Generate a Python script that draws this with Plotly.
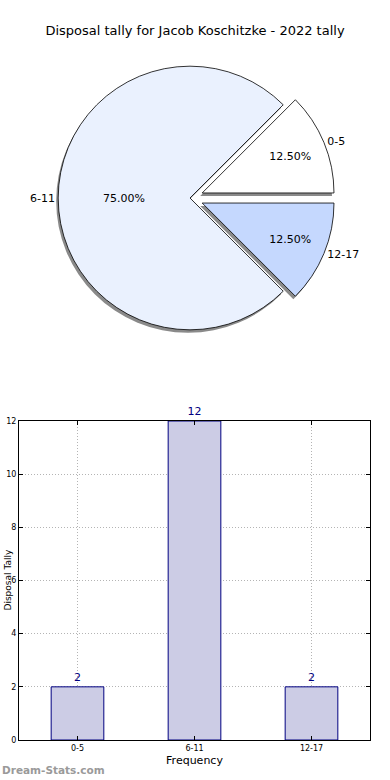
import plotly.graph_objects as go

categories = ["0-5", "6-11", "12-17"]
counts = [2, 12, 2]
pulls = [0.1, 0.0, 0.1]
pie_colors = ["#ffffff", "#eaf1fe", "#c5d8fe"]
y_ticks = [0, 2, 4, 6, 8, 10, 12]

W, H = 390, 780
FONT = "DejaVu Sans"

def px_x(a, b):
    return [a / W, b / W]

def px_y(top, bottom):
    return [1 - bottom / H, 1 - top / H]

fig = go.Figure()

# first wedge starts at 3 o'clock and runs counterclockwise (plotly ends the
# first ccw slice at `rotation`, so shift by that slice's angle)
rot = 90 - 360 * counts[0] / sum(counts)

cx, cy, half = 190, 198, 145
dom_x = px_x(cx - half - 40, cx + half + 40)
dom_y = px_y(cy - half, cy + half)
sh_x = px_x(cx - half - 40 - 2, cx + half + 40 - 2)
sh_y = px_y(cy - half + 3, cy + half + 3)

common = dict(labels=categories, values=counts, sort=False,
              direction="counterclockwise", rotation=rot, pull=pulls,
              hoverinfo="skip", showlegend=False)

fig.add_trace(go.Pie(**common, domain=dict(x=sh_x, y=sh_y),
                     marker=dict(colors=["#8a8a8a"] * 3, line=dict(width=0)),
                     textinfo="none"))
fig.add_trace(go.Pie(**common, domain=dict(x=dom_x, y=dom_y),
                     marker=dict(colors=pie_colors, line=dict(color="#000000", width=0.8)),
                     texttemplate="%{percent:.2%}", textposition="inside",
                     insidetextorientation="horizontal",
                     insidetextfont=dict(family=FONT, size=11, color="#000000")))
fig.add_trace(go.Pie(**common, domain=dict(x=dom_x, y=dom_y),
                     marker=dict(colors=["rgba(0,0,0,0)"] * 3, line=dict(width=0)),
                     texttemplate="%{label}", textposition="outside",
                     outsidetextfont=dict(family=FONT, size=11, color="#000000")))

fig.add_trace(go.Bar(x=categories, y=counts, width=0.45,
                     marker=dict(color="#ccccE5", line=dict(color="#000080", width=1)),
                     text=[str(v) for v in counts], textposition="outside",
                     textfont=dict(family=FONT, size=11, color="#000080"),
                     cliponaxis=False, hoverinfo="skip", showlegend=False))

grid = dict(showgrid=True, gridcolor="#b4b4b4", griddash="1px,2px", gridwidth=1)

fig.update_layout(
    width=W, height=H,
    margin=dict(l=0, r=0, t=0, b=0, pad=0, autoexpand=False),
    paper_bgcolor="white", plot_bgcolor="white",
    font=dict(family=FONT, color="#000000"),
    title=dict(text="Disposal tally for Jacob Koschitzke - 2022 tally",
               x=0.5, xanchor="center", y=1 - 30 / H, yanchor="middle",
               font=dict(family=FONT, size=13, color="#000000")),
    xaxis=dict(domain=px_x(19, 370), range=[-0.5, 2.5], type="category",
               showline=True, linecolor="#000000", linewidth=1, mirror="allticks",
               ticks="inside", ticklen=4, tickcolor="#000000", **grid,
               tickfont=dict(family=FONT, size=8, color="#000000"),
               title=dict(text="Frequency", font=dict(family=FONT, size=11, color="#000000"),
                          standoff=4),
               automargin=False, fixedrange=True),
    yaxis=dict(domain=px_y(421, 740), range=[0, 12], tickvals=y_ticks,
               showline=True, linecolor="#000000", linewidth=1, mirror="allticks",
               ticks="inside", ticklen=4, tickcolor="#000000", **grid,
               zeroline=False,
               tickfont=dict(family=FONT, size=8, color="#000000"),
               automargin=False, fixedrange=True),
)

ymid = 1 - (421 + 740) / 2 / H
fig.add_annotation(text="Disposal Tally", xref="paper", yref="paper",
                   x=0.0, y=ymid, xanchor="left", yanchor="middle",
                   textangle=-90, showarrow=False,
                   font=dict(family=FONT, size=9, color="#000000"))

fig.add_annotation(text="<b>Dream-Stats.com</b>", xref="paper", yref="paper",
                   x=0.0, y=1 - 770 / H, xanchor="left", yanchor="middle", showarrow=False,
                   font=dict(family=FONT, size=10.5, color="#9a9a9a"))

fig.write_html("out.html", config={"displayModeBar": False},
               post_script="document.body.style.margin='0';document.body.style.overflow='hidden';")
